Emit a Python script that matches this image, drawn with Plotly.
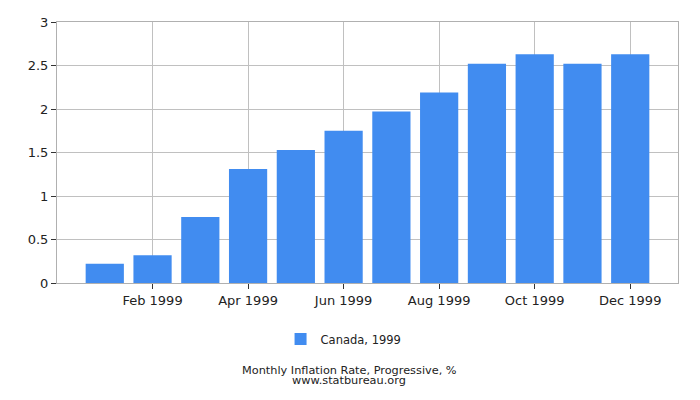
import plotly.graph_objects as go

# Monthly progressive inflation, Canada 1999
months = ['Jan 1999', 'Feb 1999', 'Mar 1999', 'Apr 1999', 'May 1999', 'Jun 1999',
          'Jul 1999', 'Aug 1999', 'Sep 1999', 'Oct 1999', 'Nov 1999', 'Dec 1999']
rates = [0.22, 0.32, 0.76, 1.31, 1.53, 1.75, 1.97, 2.19, 2.52, 2.63, 2.52, 2.63]
shown_ticks = ['Feb 1999', 'Apr 1999', 'Jun 1999', 'Aug 1999', 'Oct 1999', 'Dec 1999']
y_ticks = [0, 0.5, 1, 1.5, 2, 2.5, 3]

fig = go.Figure()

fig.add_trace(
    go.Bar(
        x=months,
        y=rates,
        name='Canada, 1999',
        marker=dict(color='#418cf0', line=dict(width=0)),
    )
)

# page body has an 8px default margin, so the figure is a bit smaller than the window
fig.update_layout(
    width=692,
    height=392,
    plot_bgcolor='white',
    paper_bgcolor='white',
    font=dict(family='DejaVu Sans', size=13, color='#222222'),
    margin=dict(l=49, r=22, t=14, b=117),
    bargap=0.2,
    showlegend=True,
    legend=dict(
        orientation='h',
        x=0.36, xanchor='left',
        y=-0.215, yanchor='middle',
        font=dict(size=11.5, color='#222222'),
        itemwidth=30,
    ),
    annotations=[
        dict(text='Monthly Inflation Rate, Progressive, %', x=0.471, y=-0.334,
             xref='paper', yref='paper', showarrow=False,
             font=dict(size=11.3, color='#222222'), xanchor='center', yanchor='middle'),
        dict(text='www.statbureau.org', x=0.471, y=-0.375,
             xref='paper', yref='paper', showarrow=False,
             font=dict(size=11.3, color='#222222'), xanchor='center', yanchor='middle'),
    ],
)

fig.update_xaxes(
    type='category',
    categoryorder='array',
    categoryarray=months,
    range=[-1, 12],
    tickmode='array',
    tickvals=shown_ticks,
    ticktext=shown_ticks,
    ticks='outside',
    ticklen=5,
    tickcolor='#333333',
    showgrid=True,
    gridcolor='#c0c0c0',
    showline=True,
    linecolor='#b0b0b0',
    mirror=True,
    automargin=False,
    fixedrange=True,
)

fig.update_yaxes(
    range=[0, 3],
    tickmode='array',
    tickvals=y_ticks,
    ticktext=['0', '0.5', '1', '1.5', '2', '2.5', '3'],
    ticks='outside',
    ticklen=5,
    tickcolor='#333333',
    showgrid=True,
    gridcolor='#c0c0c0',
    zeroline=False,
    showline=True,
    linecolor='#b0b0b0',
    mirror=True,
    automargin=False,
    fixedrange=True,
)

fig.write_html('out.html')
